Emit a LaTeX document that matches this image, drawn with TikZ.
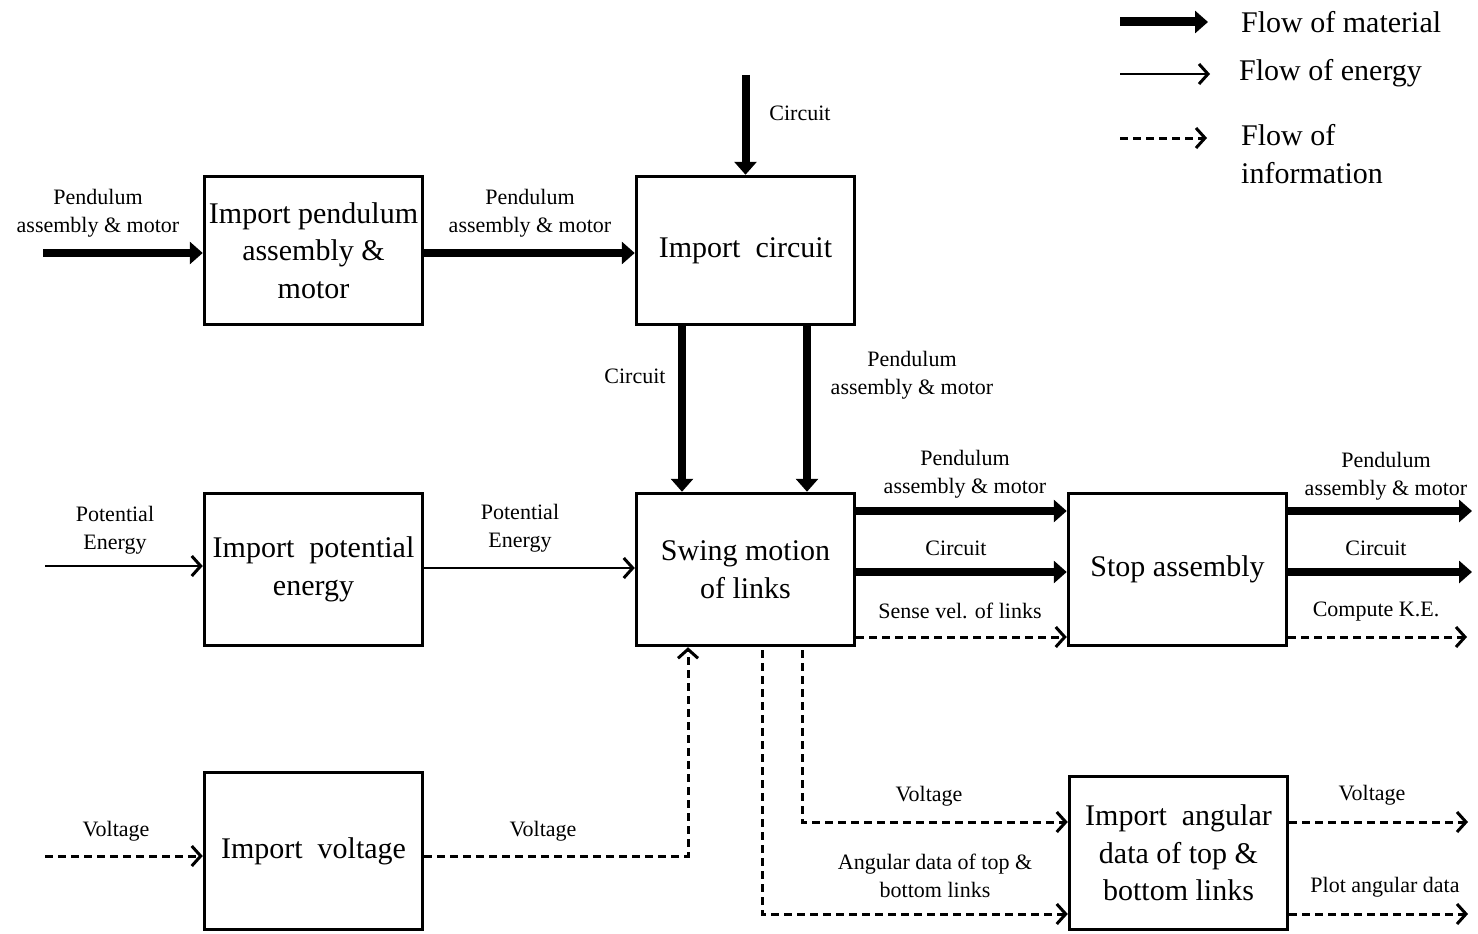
\documentclass[tikz,border=0pt]{standalone}
\usepackage{fontspec}
\setmainfont{Liberation Serif}
\usetikzlibrary{arrows.meta}

\begin{document}
\begin{tikzpicture}[x=1pt,y=-1pt,
  fbox/.style={draw,line width=3.5pt,minimum width=218pt,align=center,
    font=\fontsize{30}{37.5}\selectfont,inner sep=0pt},
  lbl/.style={align=center,font=\fontsize{22}{28}\selectfont,inner sep=0pt},
  leg/.style={align=left,anchor=west,font=\fontsize{30}{38}\selectfont,inner sep=0pt},
  mat/.style={line width=8pt,-{Triangle[length=13pt,width=22pt]}},
  ene/.style={line width=2pt,-{Straight Barb[length=9pt,width=20pt,line width=3pt]}},
  inf/.style={line width=3pt,dash pattern=on 8pt off 5pt,-{Straight Barb[length=9pt,width=20pt,line width=3pt]}}]

\useasboundingbox (0,0) rectangle (1478,934);

% function blocks
\node[fbox,minimum height=148pt] (b1) at (313.5,250.5) {Import pendulum\\assembly \&\\motor};
\node[fbox,minimum height=148pt] (b2) at (745.5,250.5) {Import\ \ circuit};
\node[fbox,minimum height=152pt] (b3) at (313.5,569.5) {Import\ \ potential\\energy};
\node[fbox,minimum height=152pt] (b4) at (745.5,569.5) {Swing motion\\of links};
\node[fbox,minimum height=152pt] (b5) at (1177.5,569.5) {Stop assembly};
\node[fbox,minimum height=157pt] (b6) at (313.5,851) {Import\ \ voltage};
\node[fbox,minimum height=153pt] (b7) at (1178.5,853) {Import\ \ angular\\data of top \&\\bottom links};

% free ends and rows
\coordinate (pin) at (43,253);
\coordinate (cin) at (745.5,75);
\coordinate (ein) at (45,566);
\coordinate (vin) at (45,856);
\coordinate (r1) at (0,511);
\coordinate (r2) at (0,572);
\coordinate (r3) at (0,637);
\coordinate (r4) at (0,822);
\coordinate (r5) at (0,914);
\coordinate (o1) at (1472,511);
\coordinate (o2) at (1472,572);
\coordinate (o3) at (1467,637);
\coordinate (o4) at (1468,822);
\coordinate (o5) at (1468,914);

% material
\draw[mat] (pin) -- (b1.west |- pin);
\draw[mat] (b1.east |- pin) -- (b2.west |- pin);
\draw[mat] (cin) -- (b2.north);
\draw[mat] ([xshift=-63.5pt]b2.south) -- ([xshift=-63.5pt]b4.north);
\draw[mat] ([xshift=61.5pt]b2.south) -- ([xshift=61.5pt]b4.north);
\draw[mat] (b4.east |- r1) -- (b5.west |- r1);
\draw[mat] (b4.east |- r2) -- (b5.west |- r2);
\draw[mat] (b5.east |- r1) -- (o1);
\draw[mat] (b5.east |- r2) -- (o2);

% energy
\draw[ene] (ein) -- (b3.west |- ein);
\draw[ene] ([yshift=1.5pt]b3.east) -- ([yshift=1.5pt]b4.west);

% information
\draw[inf] (vin) -- (b6.west |- vin);
\draw[inf] (b6.east |- vin) -| ([xshift=-57.5pt]b4.south);
\draw[inf] (b4.east |- r3) -- (b5.west |- r3);
\draw[inf] (b5.east |- r3) -- (o3);
\draw[inf] ([xshift=56.5pt,yshift=-3pt]b4.south) |- (b7.west |- r4);
\draw[inf] ([xshift=16.5pt,yshift=-3pt]b4.south) |- (b7.west |- r5);
\draw[inf] (b7.east |- r4) -- (o4);
\draw[inf] (b7.east |- r5) -- (o5);

% flow labels
\node[lbl] (l1) at (98,213) {Pendulum\\assembly \& motor};
\node[lbl] (l2) at (530,213) {Pendulum\\assembly \& motor};
\node[lbl] (l3) at (800,113) {Circuit};
\node[lbl] (l4) at (635,376) {Circuit};
\node[lbl] (l5) at (912,375) {Pendulum\\assembly \& motor};
\node[lbl] (l6) at (115,530) {Potential\\Energy};
\node[lbl] (l7) at (520,528) {Potential\\Energy};
\node[lbl] (l8) at (116,831) {Voltage};
\node[lbl] (l9) at (543,831) {Voltage};
\node[lbl] (l10) at (965,474) {Pendulum\\assembly \& motor};
\node[lbl] (l11) at (956,548) {Circuit};
\node[lbl] (l12) at (960,611) {Sense vel. of links};
\node[lbl] (l13) at (1386,476) {Pendulum\\assembly \& motor};
\node[lbl] (l14) at (1376,548) {Circuit};
\node[lbl] (l15) at (1376,612) {Compute K.E.};
\node[lbl] (l16) at (929,796) {Voltage};
\node[lbl] (l17) at (935,876) {Angular data of top \&\\bottom links};
\node[lbl] (l18) at (1372,795) {Voltage};
\node[lbl] (l19) at (1385,887) {Plot angular data};

% legend
\coordinate (k1a) at (1120,22);  \coordinate (k1b) at (1208,22);
\coordinate (k2a) at (1120,74);  \coordinate (k2b) at (1210,74);
\coordinate (k3a) at (1120,138); \coordinate (k3b) at (1207,138);
\draw[mat,line width=9pt] (k1a) -- (k1b);
\draw[ene] (k2a) -- (k2b);
\draw[inf] (k3a) -- (k3b);
\node[leg] (t1) at (1241,22) {Flow of material};
\node[leg] (t2) at (1239,73) {Flow of energy};
\node[leg] (t3) at (1241,154) {Flow of\\information};
\end{tikzpicture}
\end{document}
